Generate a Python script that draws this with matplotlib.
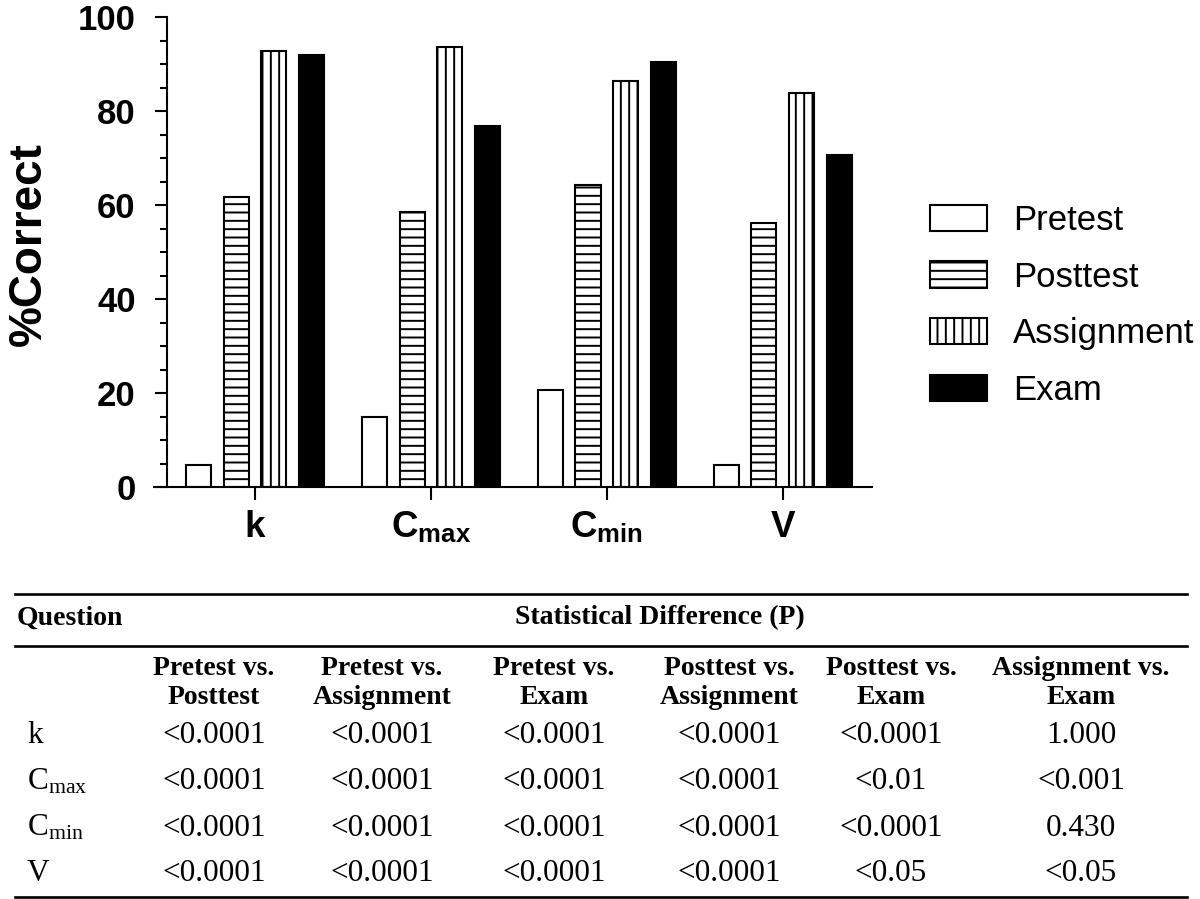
import matplotlib
matplotlib.use("Agg")
import matplotlib.pyplot as plt
import numpy as np
from matplotlib.lines import Line2D
from matplotlib.ticker import MultipleLocator

plt.rcParams['font.family'] = ['Liberation Sans', 'DejaVu Sans']
plt.rcParams['mathtext.fontset'] = 'custom'
plt.rcParams['mathtext.rm'] = 'Liberation Serif'
plt.rcParams['mathtext.it'] = 'Liberation Serif:italic'
plt.rcParams['mathtext.bf'] = 'Liberation Sans:bold'
plt.rcParams['hatch.linewidth'] = 1.4
plt.rcParams['hatch.color'] = 'black'

# ---------------- data ----------------
categories = [r'$\mathbf{k}$', r'$\mathbf{C}_{\mathbf{max}}$', r'$\mathbf{C}_{\mathbf{min}}$', r'$\mathbf{V}$']
series_names = ['Pretest', 'Posttest', 'Assignment', 'Exam']
pretest = [4.8, 15.0, 20.6, 4.7]
posttest = [61.8, 58.6, 64.3, 56.3]
assignment = [92.8, 93.6, 86.5, 84.0]
exam = [92.0, 76.9, 90.4, 70.6]
y_ticks = [0, 20, 40, 60, 80, 100]

table_title_left = 'Question'
table_title_right = 'Statistical Difference (P)'
table_headers = ['Pretest vs.\nPosttest', 'Pretest vs.\nAssignment', 'Pretest vs.\nExam',
                 'Posttest vs.\nAssignment', 'Posttest vs.\nExam', 'Assignment vs.\nExam']
row_labels = ['k', r'$\mathrm{C}_{\mathrm{max}}$', r'$\mathrm{C}_{\mathrm{min}}$', 'V']
row_k = ['<0.0001', '<0.0001', '<0.0001', '<0.0001', '<0.0001', '1.000']
row_cmax = ['<0.0001', '<0.0001', '<0.0001', '<0.0001', '<0.01', '<0.001']
row_cmin = ['<0.0001', '<0.0001', '<0.0001', '<0.0001', '<0.0001', '0.430']
row_v = ['<0.0001', '<0.0001', '<0.0001', '<0.0001', '<0.05', '<0.05']

# ---------------- figure ----------------
W, H = 1200, 899
fig = plt.figure(figsize=(W / 100, H / 100), dpi=100)

def fx(x):
    return x / W

def fy(y):
    return 1 - y / H

ax = fig.add_axes([fx(154.3), fy(487.3), (871.7 - 154.3) / W, (487.3 - 17.3) / H])

series = [pretest, posttest, assignment, exam]
hatches = ['', '--', '||', '']
faces = ['white', 'white', 'white', 'black']
offsets = [-0.3205, -0.107, 0.107, 0.3215]
bar_w = 0.143
x = np.arange(len(categories))
handles = []
for vals, h, fc, off, name in zip(series, hatches, faces, offsets, series_names):
    b = ax.bar(x + off, vals, bar_w, facecolor=fc, edgecolor='black',
               linewidth=1.5, hatch=h, label=name, zorder=2)
    handles.append(b)

ax.set_xlim(-0.5725, 3.506)
ax.set_ylim(0, 100)
for s in ['top', 'right']:
    ax.spines[s].set_visible(False)
ax.spines['left'].set_position(('axes', 0.01728))
ax.spines['left'].set_bounds(0, 100)
for s in ['left', 'bottom']:
    ax.spines[s].set_linewidth(1.5)

ax.set_yticks(y_ticks)
ax.yaxis.set_minor_locator(MultipleLocator(5))
ax.set_yticklabels([str(v) for v in y_ticks], fontsize=25, fontweight='bold')
ax.tick_params(axis='y', which='major', direction='out', length=8.9, width=1.5, pad=13.5)
ax.tick_params(axis='y', which='minor', direction='out', length=4.8, width=1.5)
ax.set_xticks(x)
ax.set_xticklabels(categories, fontsize=26.5)
ax.tick_params(axis='x', which='major', direction='out', length=9.1, width=1.5, pad=7.2)
ax.tick_params(axis='x', which='minor', bottom=False)

ax.set_ylabel('%Correct', fontsize=33, fontweight='bold')
ax.yaxis.set_label_coords(-0.144, 0.518)

leg = ax.legend(handles, series_names, loc='upper left',
                bbox_to_anchor=(fx(930), fy(204)), bbox_transform=fig.transFigure,
                frameon=False, borderpad=0, borderaxespad=0,
                handlelength=1.64, handleheight=0.78, handletextpad=0.76,
                labelspacing=0.68, prop={'family': 'Liberation Sans', 'size': 25})

# ---------------- table ----------------
def hline(y, lw=1.9):
    fig.add_artist(Line2D([fx(15), fx(1186.7)], [fy(y), fy(y)], color='black',
                          lw=lw, transform=fig.transFigure))

hline(594.3)
hline(645.7)
hline(896.7)

serif = 'Liberation Serif'
fig.text(fx(16.7), fy(624.5), table_title_left, fontsize=20, fontweight='bold',
         family=serif, ha='left', va='baseline')
fig.text(fx(660), fy(624.5), table_title_right, fontsize=20, fontweight='bold',
         family=serif, ha='center', va='baseline')

col_x = [214, 382, 554, 729, 891, 1081]
for cx, hdr in zip(col_x, table_headers):
    l1, l2 = hdr.split('\n')
    fig.text(fx(cx), fy(675), l1, fontsize=20, fontweight='bold', family=serif,
             ha='center', va='baseline')
    fig.text(fx(cx), fy(704), l2, fontsize=20, fontweight='bold', family=serif,
             ha='center', va='baseline')

rows = [row_k, row_cmax, row_cmin, row_v]
row_base = [743, 789, 835.5, 881]
for lab, vals, yb in zip(row_labels, rows, row_base):
    fig.text(fx(27), fy(yb), lab, fontsize=22.5, family=serif, ha='left', va='baseline')
    for cx, v in zip(col_x, vals):
        fig.text(fx(cx), fy(yb), v, fontsize=22.5, family=serif, ha='center', va='baseline')

fig.savefig('out.png', dpi=100)
